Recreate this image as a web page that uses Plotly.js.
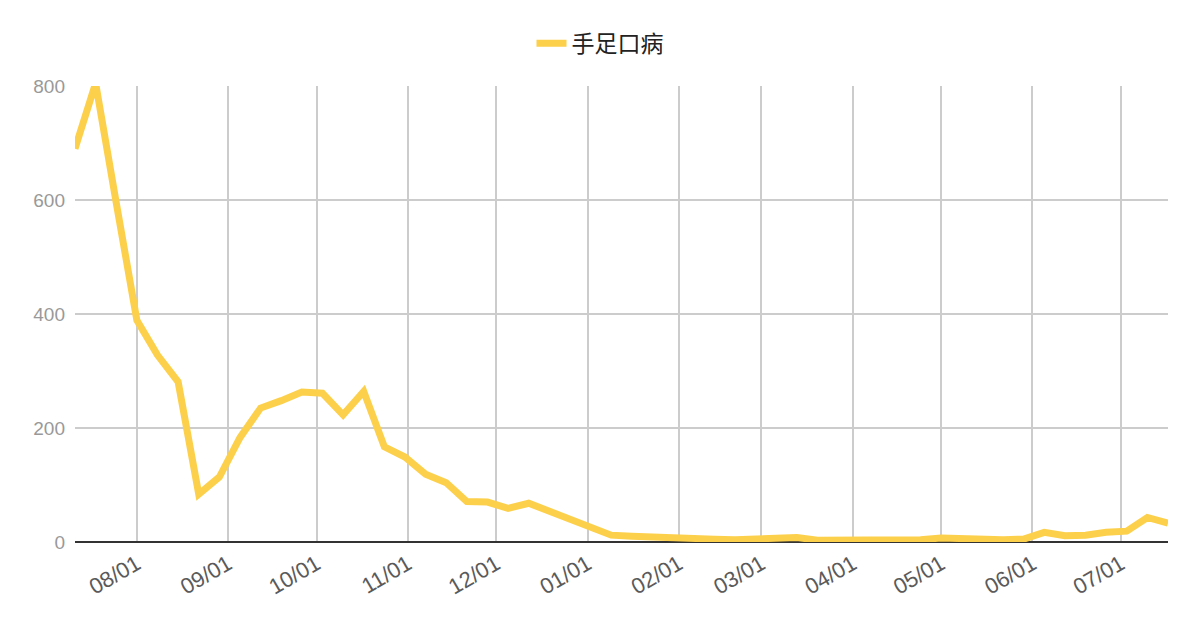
<!DOCTYPE html>
<html>
<head>
<meta charset="utf-8">
<script src="https://cdn.plot.ly/plotly-3.0.1.min.js"></script>
<style>html,body{margin:0;padding:0;background:#fff}#chart{width:1200px;height:626px}</style>
</head>
<body>
<div id="chart"></div>
<script>
const seriesName = "手足口病";
const dates = [
  "2018-07-11","2018-07-18","2018-07-25","2018-08-01","2018-08-08","2018-08-15","2018-08-22","2018-08-29",
  "2018-09-05","2018-09-12","2018-09-19","2018-09-26","2018-10-03","2018-10-10","2018-10-17","2018-10-24",
  "2018-10-31","2018-11-07","2018-11-14","2018-11-21","2018-11-28","2018-12-05","2018-12-12","2018-12-19",
  "2018-12-26","2019-01-02","2019-01-09","2019-01-16","2019-01-23","2019-01-30","2019-02-06","2019-02-13",
  "2019-02-20","2019-02-27","2019-03-06","2019-03-13","2019-03-20","2019-03-27","2019-04-03","2019-04-10",
  "2019-04-17","2019-04-24","2019-05-01","2019-05-08","2019-05-15","2019-05-22","2019-05-29","2019-06-05",
  "2019-06-12","2019-06-19","2019-06-26","2019-07-03","2019-07-10","2019-07-17"
];
const cases = [
  690, 805, 595, 389, 328, 281, 84, 114,
  183, 235, 248, 263, 261, 223, 264, 167,
  149, 119, 104, 71, 70, 59, 68, 54,
  37, 24, 12, 10, 8, 6, 4, 5,
  4, 5, 7, 8, 3, 3, 3, 4,
  4, 4, 7, 5, 4, 4, 5, 17,
  11, 12, 17, 19, 43, 33
];
const tickVals = ["2018-08-01","2018-09-01","2018-10-01","2018-11-01","2018-12-01","2019-01-01",
  "2019-02-01","2019-03-01","2019-04-01","2019-05-01","2019-06-01","2019-07-01"];
const tickText = ["08/01","09/01","10/01","11/01","12/01","01/01","02/01","03/01","04/01","05/01","06/01","07/01"];
const yTicks = [0, 200, 400, 600, 800];

const trace = {
  x: dates, y: cases, type: "scatter", mode: "lines", name: seriesName,
  line: {color: "#fdd04b", width: 7}
};
const layout = {
  width: 1200, height: 626,
  margin: {l: 75, r: 32, t: 86, b: 84, autoexpand: false},
  paper_bgcolor: "#fff", plot_bgcolor: "#fff",
  font: {family: "Liberation Sans, Arial, 'Noto Sans CJK SC', sans-serif", color: "#333"},
  showlegend: true,
  legend: {orientation: "h", xref: "container", yref: "container", x: 0.5, xanchor: "center",
    y: 0.931, yanchor: "middle",
    font: {size: 23, color: "#222", family: "'Noto Sans CJK SC', Liberation Sans, sans-serif"}},
  xaxis: {
    type: "date", range: [dates[0], dates[dates.length - 1]],
    tickvals: tickVals, ticktext: tickText, tickangle: -30,
    tickfont: {size: 22, color: "#5a5a5a"},
    showgrid: true, gridcolor: "#cccccc", gridwidth: 2,
    zeroline: false, showline: false, ticks: "", ticklabelstandoff: 4
  },
  yaxis: {
    range: [0, 800], tickvals: yTicks, ticktext: yTicks.map(String),
    tickfont: {size: 19, color: "#999"},
    showgrid: true, gridcolor: "#cccccc", gridwidth: 2,
    zeroline: true, zerolinecolor: "#333", zerolinewidth: 2,
    showline: false, ticks: "", ticklabelstandoff: 9
  }
};
Plotly.newPlot("chart", [trace], layout, {displayModeBar: false, staticPlot: true});
</script>
</body>
</html>
